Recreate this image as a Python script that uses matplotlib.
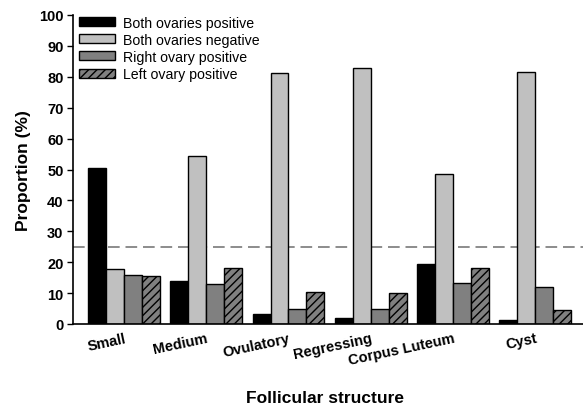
import matplotlib
matplotlib.use("Agg")
import matplotlib.pyplot as plt
import numpy as np

plt.rcParams['font.family'] = ['Liberation Sans', 'DejaVu Sans']
plt.rcParams['hatch.linewidth'] = 1.0

categories = ["Small", "Medium", "Ovulatory", "Regressing", "Corpus Luteum", "Cyst"]
series_names = ["Both ovaries positive", "Both ovaries negative",
                "Right ovary positive", "Left ovary positive"]
both_pos = [50.4, 13.9, 3.1, 2.0, 19.4, 1.3]
both_neg = [17.8, 54.5, 81.3, 82.7, 48.6, 81.6]
right_pos = [15.9, 13.0, 4.9, 4.9, 13.4, 12.0]
left_pos = [15.6, 18.2, 10.4, 9.9, 18.2, 4.6]
reference_line = 25
y_ticks = [0, 10, 20, 30, 40, 50, 60, 70, 80, 90, 100]

series = [both_pos, both_neg, right_pos, left_pos]
colors = ["#000000", "#c0c0c0", "#808080", "#808080"]
hatches = [None, None, None, "////"]

fig = plt.figure(figsize=(5.83, 4.10), dpi=100)
ax = fig.add_axes([73.3 / 583, 1 - 325 / 410, 1 - 73.3 / 583, 309 / 410])

x = np.arange(len(categories))
w = 0.875 / 4
for i, (vals, c, h, name) in enumerate(zip(series, colors, hatches, series_names)):
    ax.bar(x - 0.4375 + w * (i + 0.5), vals, width=w, color=c, edgecolor="black",
           linewidth=1.0, hatch=h, label=name, zorder=2)

ax.axhline(reference_line, color="#8c8c8c", linestyle=(0, (6, 3)), linewidth=1.4, zorder=1)

ax.set_ylim(0, 100)
ax.set_xlim(-0.616, 5.58)
ax.set_yticks(y_ticks)
ax.set_yticklabels([str(t) for t in y_ticks], fontweight="bold", fontsize=10.5)
ax.set_xticks(x)
ax.set_xticklabels(categories, rotation=12, ha="right", rotation_mode="anchor",
                   fontweight="bold", fontsize=10.5)
ax.tick_params(axis="x", length=0, pad=5)
ax.tick_params(axis="y", length=4, width=1, pad=3)

for s in ["top", "right"]:
    ax.spines[s].set_visible(False)
ax.spines["left"].set_linewidth(1.2)
ax.spines["bottom"].set_linewidth(1.2)

ax.set_ylabel("Proportion (%)", fontweight="bold", fontsize=12.5, labelpad=6)
fig.text(325 / 583, 1 - 399 / 410, "Follicular structure", fontweight="bold",
         fontsize=12.5, ha="center", va="center")

leg = ax.legend(loc="upper left", bbox_to_anchor=(-0.008, 1.03), frameon=False, fontsize=10.2,
                handlelength=2.5, handleheight=0.6, handletextpad=0.6,
                labelspacing=0.22, borderaxespad=0.3)

fig.savefig("out.png", dpi=100)
